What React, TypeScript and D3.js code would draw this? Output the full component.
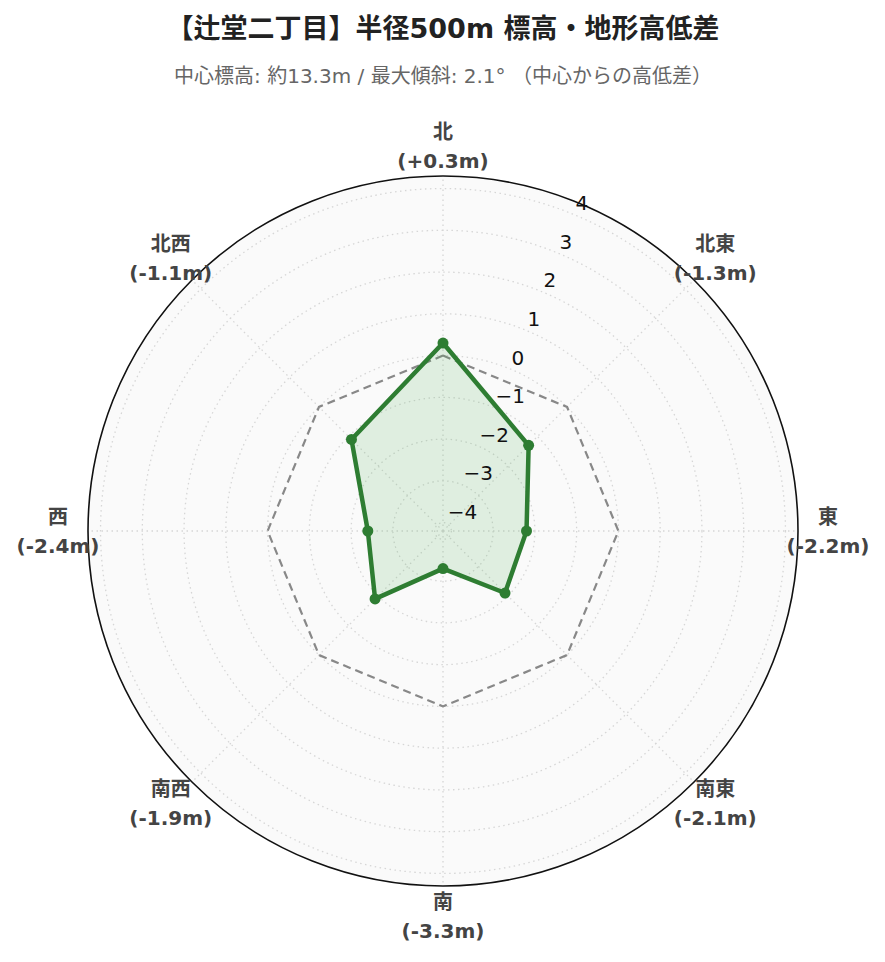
import * as d3 from "d3";

// 方位ごとの中心からの高低差 (m)
const directions = ["北", "北東", "東", "南東", "南", "南西", "西", "北西"];
const diffs = [0.3, -1.3, -2.2, -2.1, -3.3, -1.9, -2.4, -1.1];
const baseline = [0, 0, 0, 0, 0, 0, 0, 0];
const radialTicks = [-4, -3, -2, -1, 0, 1, 2, 3, 4];
const radialRange = [-4.2, 4.3];

const title = "【辻堂二丁目】半径500m 標高・地形高低差";
const subtitle = "中心標高: 約13.3m / 最大傾斜: 2.1° （中心からの高低差）";

const width = 885;
const height = 962;
const cx = 443;
const cy = 531;
const outerR = 355;
const font = "'DejaVu Sans', 'Noto Sans CJK JP', sans-serif";

export default function App() {
  const r = d3.scaleLinear().domain(radialRange).range([0, outerR]);
  const angle = (i: number) => (i * 2 * Math.PI) / directions.length;

  const radial = d3
    .lineRadial<number>()
    .angle((_, i) => angle(i))
    .radius((d) => r(d))
    .curve(d3.curveLinearClosed);

  const fmt = (v: number) => `(${v > 0 ? "+" : ""}${v.toFixed(1)}m)`;

  // radial tick labels sit along the 22.5° line
  const tickAngle = Math.PI / 8;
  const ux = Math.sin(tickAngle);
  const uy = -Math.cos(tickAngle);
  const nx = Math.cos(tickAngle);
  const ny = Math.sin(tickAngle);

  return (
    <div style={{ position: "absolute", left: 0, top: 0 }}>
      <svg width={width} height={height} style={{ display: "block", background: "#fff" }}>
        <text
          x={cx}
          y={28}
          textAnchor="middle"
          dominantBaseline="central"
          fontFamily={font}
          fontWeight="bold"
          fontSize={27}
          fill="#222"
        >
          {title}
        </text>
        <text
          x={cx}
          y={76}
          textAnchor="middle"
          dominantBaseline="central"
          fontFamily={font}
          fontSize={20}
          fill="#666"
        >
          {subtitle}
        </text>

        <g transform={`translate(${cx},${cy})`}>
          <circle r={outerR} fill="#fafafa" />
          {radialTicks.map((t) => (
            <circle
              key={t}
              r={r(t)}
              fill="none"
              stroke="#d6d6d6"
              strokeWidth={1.3}
              strokeDasharray="1.5,3.5"
            />
          ))}
          {directions.map((d, i) => (
            <line
              key={d}
              x1={0}
              y1={0}
              x2={outerR * Math.sin(angle(i))}
              y2={-outerR * Math.cos(angle(i))}
              stroke="#d6d6d6"
              strokeWidth={1.3}
              strokeDasharray="1.5,3.5"
            />
          ))}
          <circle r={outerR} fill="none" stroke="#111" strokeWidth={1.6} />

          <path
            d={radial(baseline) ?? ""}
            fill="none"
            stroke="#888"
            strokeWidth={2.2}
            strokeDasharray="8,5"
          />
          <path
            d={radial(diffs) ?? ""}
            fill="rgba(76,175,80,0.15)"
            stroke="#2e7d32"
            strokeWidth={4.5}
            strokeLinejoin="round"
          />
          {diffs.map((v, i) => (
            <circle
              key={i}
              cx={r(v) * Math.sin(angle(i))}
              cy={-r(v) * Math.cos(angle(i))}
              r={5.5}
              fill="#2e7d32"
            />
          ))}

          {radialTicks.map((t) => {
            const along = r(t) + 11;
            return (
              <text
                key={t}
                x={ux * along - nx * 3}
                y={uy * along - ny * 3}
                textAnchor="start"
                dominantBaseline="central"
                fontFamily={font}
                fontSize={20}
                fill="#111"
              >
                {t < 0 ? `\u2212${Math.abs(t)}` : t}
              </text>
            );
          })}

          {directions.map((d, i) => {
            const lx = 385 * Math.sin(angle(i));
            const ly = -385 * Math.cos(angle(i));
            return (
              <text
                key={d}
                x={lx}
                y={ly}
                textAnchor="middle"
                dominantBaseline="central"
                fontFamily={font}
                fontWeight="bold"
                fontSize={20}
                fill="#444"
              >
                <tspan x={lx} dy={-14.5}>
                  {d}
                </tspan>
                <tspan x={lx} dy={29}>
                  {fmt(diffs[i])}
                </tspan>
              </text>
            );
          })}
        </g>
      </svg>
    </div>
  );
}
